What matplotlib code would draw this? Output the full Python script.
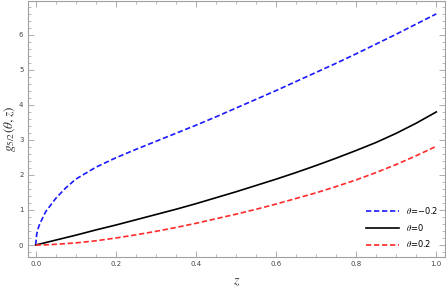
import numpy as np
import matplotlib.pyplot as plt
from matplotlib.ticker import MultipleLocator

plt.rcParams['mathtext.fontset'] = 'stix'

# valores
z = [0, 0.0025, 0.005, 0.01, 0.025, 0.05, 0.075, 0.1, 0.15, 0.2, 0.25, 0.3, 0.35, 0.4, 0.45,
     0.5, 0.55, 0.6, 0.65, 0.7, 0.75, 0.8, 0.85, 0.9, 0.95, 1.0]
g_neg = [0, 0.30, 0.43, 0.60, 0.95, 1.33, 1.63, 1.88, 2.22, 2.49, 2.73, 2.96, 3.19, 3.42, 3.66,
         3.91, 4.16, 4.41, 4.67, 4.93, 5.19, 5.46, 5.74, 6.02, 6.31, 6.60]
g_cero = [0, 0.007, 0.014, 0.028, 0.07, 0.14, 0.21, 0.28, 0.43, 0.57, 0.72, 0.87, 1.02, 1.18, 1.35,
          1.52, 1.70, 1.88, 2.07, 2.27, 2.48, 2.70, 2.93, 3.19, 3.48, 3.80]
g_pos = [0, 0.0001, 0.0003, 0.001, 0.005, 0.02, 0.04, 0.06, 0.12, 0.20, 0.29, 0.39, 0.50, 0.62, 0.75,
         0.88, 1.02, 1.17, 1.33, 1.49, 1.67, 1.86, 2.07, 2.30, 2.55, 2.82]
etiquetas = [r'$\theta$=−0.2', r'$\theta$=0', r'$\theta$=0.2']

fig = plt.figure(figsize=(4.46, 2.89), dpi=100)
ax = fig.add_axes([0.062, 0.111, 0.936, 0.887])

ax.plot(z, g_neg, color='#1a1aff', lw=1.2, ls=(0, (3.2, 1.6)), label=etiquetas[0])
ax.plot(z, g_cero, color='black', lw=1.2, label=etiquetas[1])
ax.plot(z, g_pos, color='#ff2a2a', lw=1.2, ls=(0, (3.2, 1.6)), label=etiquetas[2])

ax.set_xlim(-0.02, 1.022)
ax.set_ylim(-0.34, 6.98)
ax.xaxis.set_major_locator(MultipleLocator(0.2))
ax.xaxis.set_minor_locator(MultipleLocator(0.05))
ax.yaxis.set_major_locator(MultipleLocator(1))
ax.yaxis.set_minor_locator(MultipleLocator(0.2))
ax.xaxis.set_major_formatter(plt.FuncFormatter(lambda v, p: f"{v:.1f}"))

for s in ax.spines.values():
    s.set_color('#a0a0a0')
    s.set_linewidth(0.8)
ax.tick_params(which='both', direction='in', top=True, right=True,
               color='#a0a0a0', labelsize=5, labelcolor='#444444', pad=3)
ax.tick_params(which='major', length=4, width=0.6)
ax.tick_params(which='minor', length=2, width=0.5)

ax.set_xlabel(r'$z$', fontsize=10, color='#333333', labelpad=5)
ax.set_ylabel(r'$g_{5/2}(\theta,z)$', fontsize=9.5, color='#333333')
ax.yaxis.set_label_coords(-0.022, 0.5)

ax.legend(loc='lower right', bbox_to_anchor=(1.0, 0.0), frameon=False,
          fontsize=6, handlelength=4.0, handletextpad=0.8, labelspacing=0.7)

fig.savefig('out.png', dpi=100)
